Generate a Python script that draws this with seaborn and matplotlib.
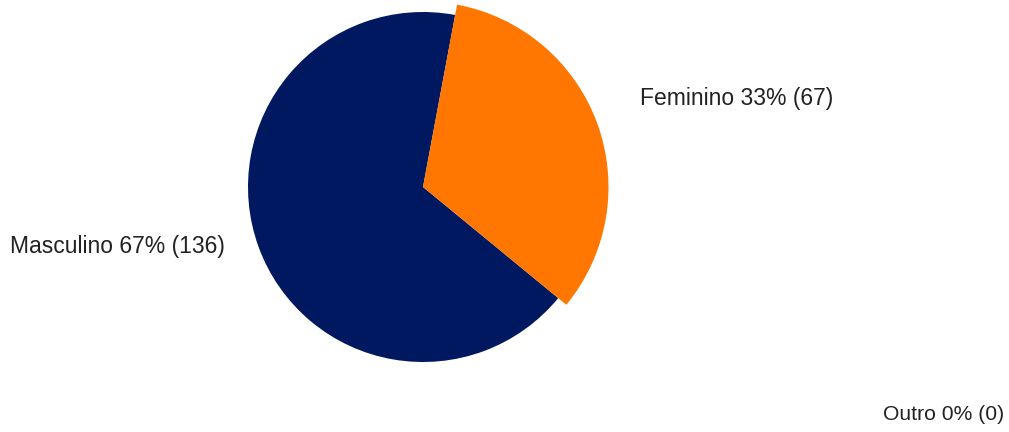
import matplotlib
matplotlib.use("Agg")
import matplotlib.pyplot as plt
import seaborn as sns

# Respondent gender counts
categories = ["Feminino", "Masculino", "Outro"]
counts = [67, 136, 0]
percent_labels = ["33%", "67%", "0%"]

colors = ["#FF7600", "#00185F", "#D9D9D9"]

sns.set_theme(style="white")
plt.rcParams["font.family"] = ["Liberation Sans", "DejaVu Sans"]

fig = plt.figure(figsize=(10.09, 4.32), dpi=100)
ax = fig.add_axes([0, 0, 1, 1])

total = sum(counts)
feminino_span = counts[0] / total * 360.0
start = 20.0 - feminino_span / 2.0

wedges, _ = ax.pie(
    counts,
    colors=colors,
    startangle=start,
    counterclock=True,
    center=(423, 245),
    radius=175,
    wedgeprops=dict(linewidth=0),
)
# highlighted slice drawn slightly larger
wedges[0].set_radius(175 * 1.06)
wedges[0].set_zorder(3)

ax.set_xlim(0, 1009)
ax.set_ylim(0, 432)
ax.set_axis_off()

label_font = dict(fontsize=16.5, color="#222222")
ax.text(640, 432 - 98, f"{categories[0]} {percent_labels[0]} ({counts[0]})",
        ha="left", va="center", **label_font)
ax.text(225, 432 - 247, f"{categories[1]} {percent_labels[1]} ({counts[1]})",
        ha="right", va="center", **label_font)
ax.text(1004, 432 - 415, f"{categories[2]} {percent_labels[2]} ({counts[2]})",
        ha="right", va="center", fontsize=15.2, color="#222222")

fig.savefig("out.png", dpi=100, facecolor="white")
